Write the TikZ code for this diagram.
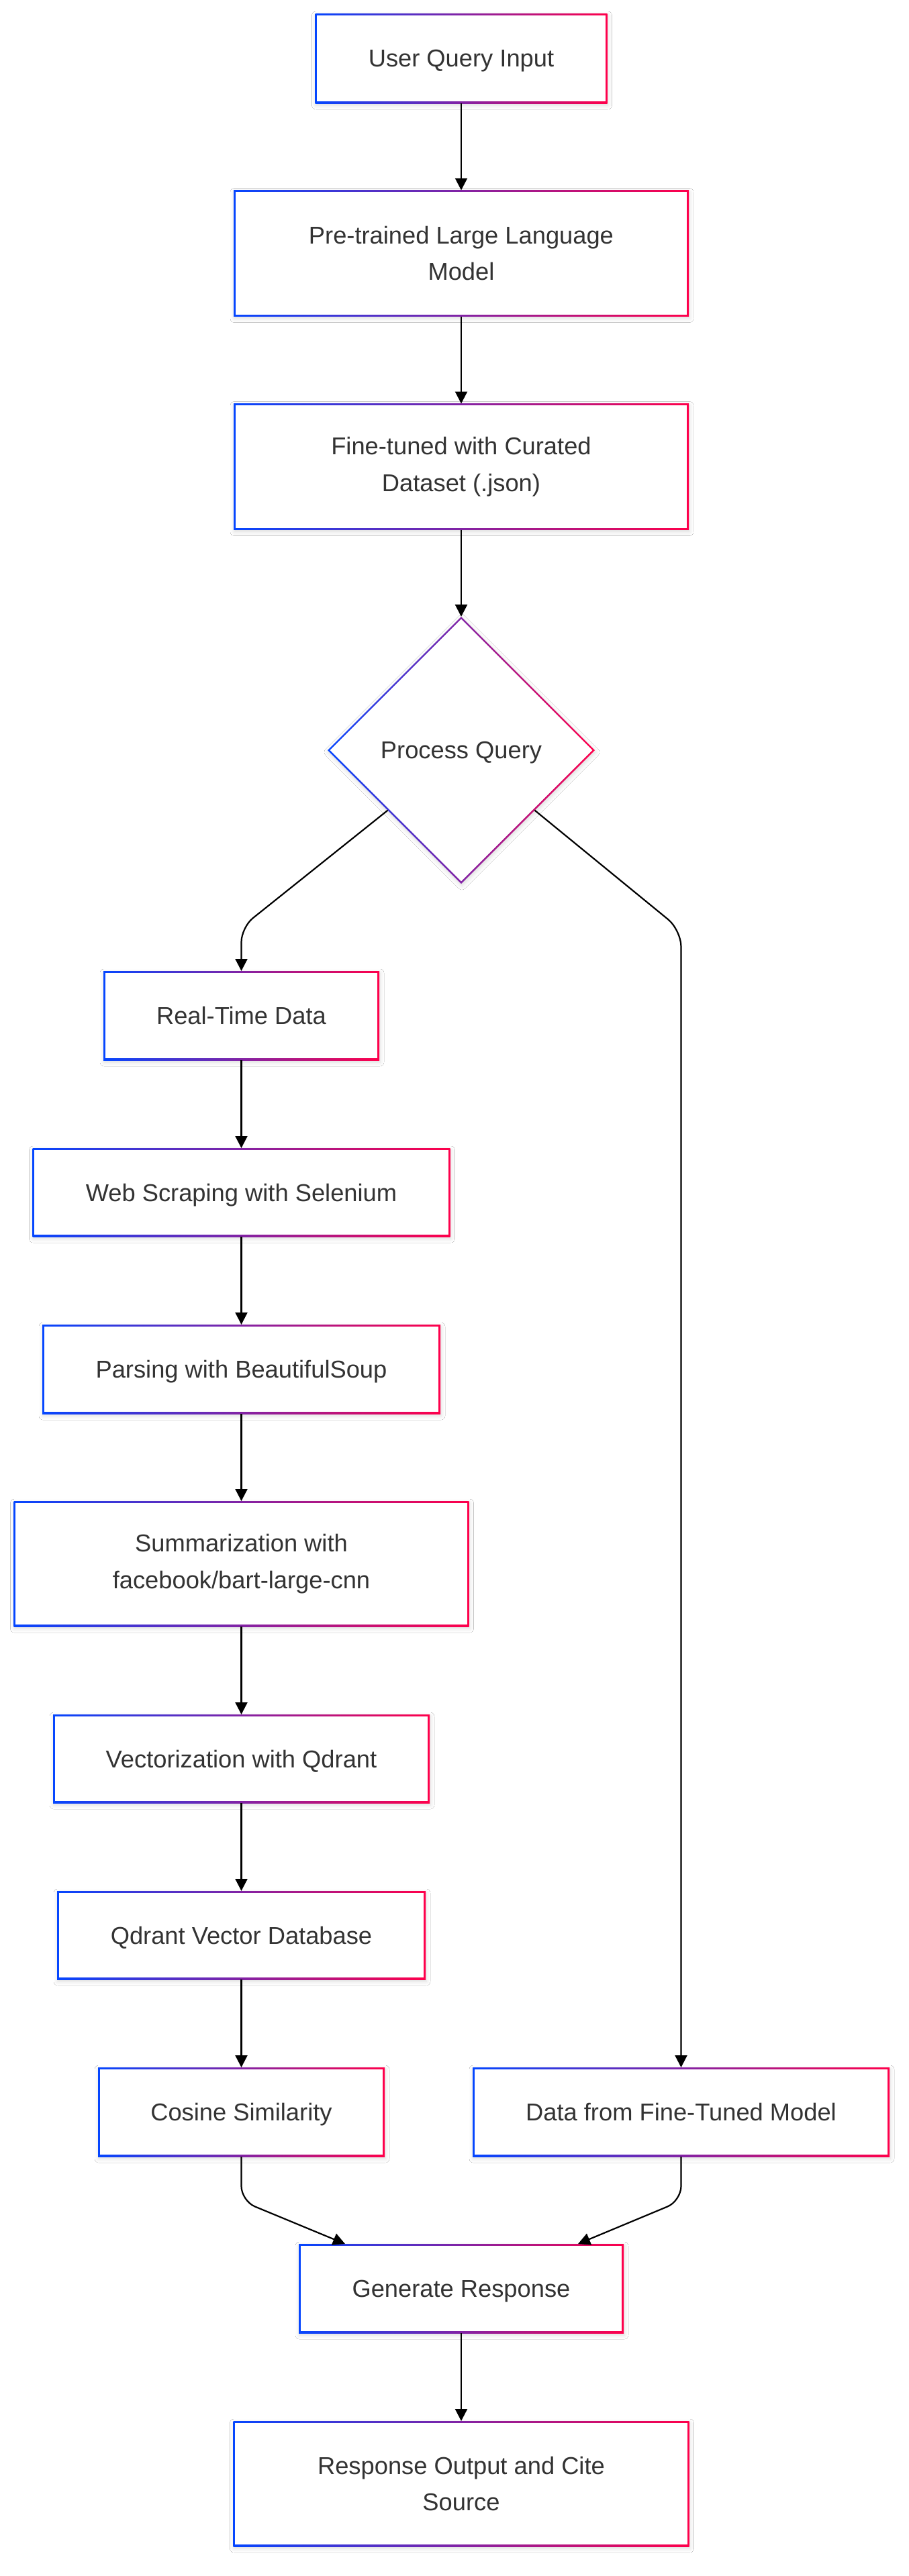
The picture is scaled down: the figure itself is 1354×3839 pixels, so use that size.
\documentclass[tikz,border=0pt]{standalone}
\usepackage{fontspec}
\setmainfont{Liberation Sans}
\usetikzlibrary{arrows.meta,calc,shapes.geometric,shadows.blur}
\definecolor{bl}{RGB}{5,70,255}
\definecolor{rd}{RGB}{255,0,75}
\definecolor{txt}{HTML}{333333}
\tikzset{
  softshadow/.style={blur shadow={shadow xshift=1pt, shadow yshift=-3pt, shadow blur radius=6pt, shadow opacity=14}},
  box/.style={rectangle, inner sep=0pt, outer sep=0pt, fill=white, text=txt, align=center,
    font=\fontsize{36.3pt}{54.5pt}\selectfont, softshadow,
    path picture={
      \shade[left color=bl, right color=rd] (path picture bounding box.south west) rectangle (path picture bounding box.north east);
      \fill[white] ([shift={(2.6pt,2.6pt)}]path picture bounding box.south west) rectangle ([shift={(-2.6pt,-2.6pt)}]path picture bounding box.north east);
    }},
  oneline/.style={text depth=0pt},
  decision/.style={diamond, aspect=1, inner sep=0pt, outer sep=0pt, fill=white, text=txt, align=center,
    minimum width=398pt, minimum height=398pt, text depth=0pt,
    font=\fontsize{36.3pt}{54.5pt}\selectfont, softshadow,
    path picture={
      \shade[left color=bl, right color=rd] (path picture bounding box.south west) rectangle (path picture bounding box.north east);
      \fill[white] (path picture bounding box.center) ++(-195.3pt,0pt) -- ++(195.3pt,195.3pt) -- ++(195.3pt,-195.3pt) -- ++(-195.3pt,-195.3pt) -- cycle;
    }},
  conn/.style={draw=black, line width=2.2pt, -{Triangle[length=18pt,width=18pt]}},
}
\begin{document}
\begin{tikzpicture}[x=1pt,y=-1pt]
\fill[white] (0,0) rectangle (1354,3839);
\useasboundingbox (0,0) rectangle (1354,3839);

\node[box, oneline, minimum width=435pt, minimum height=134pt] (uq) at (687,87) {User Query Input};
\node[box, minimum width=678pt, minimum height=188pt] (pt) at (687,377.5) {Pre-trained Large Language\\Model};
\node[box, minimum width=678pt, minimum height=188pt] (ft) at (687,695.5) {Fine-tuned with Curated\\Dataset (.json)};
\node[decision] (pq) at (687,1118) {Process Query};

\node[box, oneline, minimum width=411pt, minimum height=133pt] (rt) at (359.5,1513.5) {Real-Time Data};
\node[box, oneline, minimum width=622pt, minimum height=132pt] (ws) at (359.5,1777) {Web Scraping with Selenium};
\node[box, oneline, minimum width=593pt, minimum height=133pt] (pa) at (359.5,2040.5) {Parsing with BeautifulSoup};
\node[box, minimum width=678pt, minimum height=187pt] (su) at (359.5,2330.5) {Summarization with\\facebook/bart-large-cnn};
\node[box, oneline, minimum width=561pt, minimum height=132pt] (ve) at (359.5,2621) {Vectorization with Qdrant};
\node[box, oneline, minimum width=549pt, minimum height=132pt] (qd) at (359.5,2884) {Qdrant Vector Database};
\node[box, oneline, minimum width=427pt, minimum height=133pt] (cs) at (359.5,3147.5) {Cosine Similarity};
\node[box, oneline, minimum width=621pt, minimum height=133pt] (df) at (1014.5,3147.5) {Data from Fine-Tuned Model};
\node[box, oneline, minimum width=484pt, minimum height=133pt] (gr) at (687,3410.5) {Generate Response};
\node[box, minimum width=679pt, minimum height=187pt] (ro) at (687,3701.5) {Response Output and Cite\\Source};

\coordinate (pqL) at ($(pq.west)!0.45!(pq.south)$);
\coordinate (pqR) at ($(pq.east)!0.45!(pq.south)$);

\draw[conn] (uq) -- (pt);
\draw[conn] (pt) -- (ft);
\draw[conn] (ft) -- (pq);
\draw[conn, rounded corners=22pt] (pqL) -- (rt.north |- 0,1382) -- (rt.north);
\draw[conn, rounded corners=25pt] (pqR) -- (df.north |- 0,1386) -- (df.north);
\draw[conn] (rt) -- (ws);
\draw[conn] (ws) -- (pa);
\draw[conn] (pa) -- (su);
\draw[conn] (su) -- (ve);
\draw[conn] (ve) -- (qd);
\draw[conn] (qd) -- (cs);
\draw[conn, rounded corners=22pt] (cs.south) -- (cs.south |- 0,3280) -- ([xshift=69pt]gr.north west);
\draw[conn, rounded corners=22pt] (df.south) -- (df.south |- 0,3280) -- ([xshift=-68pt]gr.north east);
\draw[conn] (gr) -- (ro);
\end{tikzpicture}
\end{document}
